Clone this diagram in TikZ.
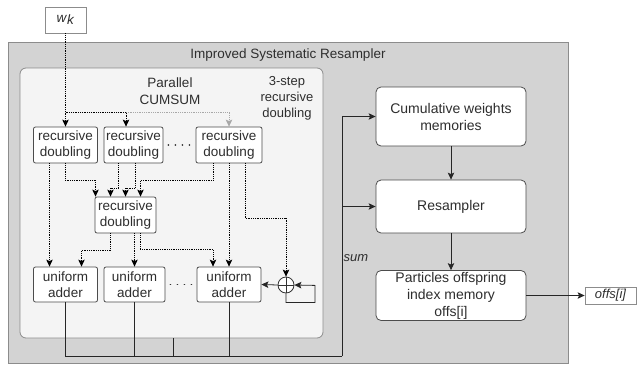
\documentclass[tikz,border=0pt]{standalone}
\usepackage{fontspec}
\setmainfont{Liberation Sans}
\usetikzlibrary{arrows.meta}
\definecolor{outer}{HTML}{D3D3D3}
\definecolor{panel}{HTML}{F4F4F4}
\definecolor{edge}{HTML}{8C8C8C}
\definecolor{ink}{HTML}{2E2E2E}
\definecolor{feed}{HTML}{A8A8A8}

\begin{document}
\begin{tikzpicture}[x=1pt, y=-1pt, font=\fontsize{13.5}{16.5}\selectfont,
    blk/.style={shape=rectangle, draw=black!70, fill=white, rounded corners=2pt, line width=0.8pt, inner sep=0pt, align=center, text=ink},
    big/.style={blk, rounded corners=5pt, minimum width=150pt, font=\fontsize{14}{17}\selectfont},
    tip/.style={-{Stealth[length=7pt,width=6.5pt,inset=1.5pt]}},
    sig/.style={tip, densely dotted, line width=0.8pt},
    wire/.style={line width=0.8pt, black!85},
    dots/.style={line width=1.8pt, dash pattern=on 0.01pt off 7pt, line cap=round, black!80}]
    \useasboundingbox (0,0) rectangle (638,365);

    \node at (288,202.5) (isr) [shape=rectangle, draw=edge, fill=outer, line width=1pt, minimum width=560pt, minimum height=321pt] {};
    \node at (288,55) (isrtitle) [text=ink] {Improved Systematic Resampler};
    \node at (171.5,203) (cumsum) [shape=rectangle, draw=edge, fill=panel, rounded corners=6pt, line width=0.8pt, minimum width=303pt, minimum height=270pt] {};
    \node at (170,91) (cumsumlabel) [align=center, text=ink] {Parallel\\CUMSUM};
    \node at (287,98) (steplabel) [align=center, text=ink, font=\fontsize{13}{16}\selectfont] {3-step\\recursive\\doubling};

    \node at (65.5,20) (wk) [shape=rectangle, draw=edge, fill=white, line width=0.8pt, minimum width=41pt, minimum height=26pt, text=ink] {\textit{w}\raisebox{-0.35ex}{\textit{k}}};

    \node at (65.5,145) (rd1) [blk, minimum width=64pt, minimum height=36pt] {recursive\\doubling};
    \node at (133.5,145) (rd2) [blk, minimum width=59pt, minimum height=36pt] {recursive\\doubling};
    \node at (229,145) (rd3) [blk, minimum width=66pt, minimum height=36pt] {recursive\\doubling};
    \node at (125.5,215) (rdm) [blk, minimum width=61pt, minimum height=36pt] {recursive\\doubling};

    \node at (65.5,284.5) (ua1) [blk, minimum width=64pt, minimum height=35pt] {uniform\\adder};
    \node at (134.5,284.5) (ua2) [blk, minimum width=61pt, minimum height=35pt] {uniform\\adder};
    \node at (229,284.5) (ua3) [blk, minimum width=64pt, minimum height=35pt] {uniform\\adder};
    \node at (286,285) (sum) [shape=circle, draw=black!80, fill=white, line width=0.8pt, minimum size=16pt, inner sep=0pt] {};
    \draw[line width=0.8pt, black!80] (sum.north) -- (sum.south) (sum.west) -- (sum.east);

    \draw[dots] ([xshift=5pt]rd2.east) -- (rd3.west);
    \draw[dots] ([xshift=5pt]ua2.east) -- (ua3.west);

    \node at (451,116.5) (cwm) [big, minimum height=59pt] {Cumulative weights\\memories};
    \node at (451,206.5) (res) [big, minimum height=53pt] {Resampler};
    \node at (451,295.5) (pom) [big, minimum height=50pt] {Particles offspring\\index memory\\offs[i]};
    \node at (610.5,295.5) (offs) [shape=rectangle, draw=edge, fill=white, line width=0.8pt, minimum width=51pt, minimum height=17pt, inner sep=0pt, text=ink, font=\fontsize{13}{16}\itshape] {offs[i]};

    \coordinate (split) at (65.5,112);
    \draw[sig, feed] ([xshift=-7.5pt]rd2.north |- split) -| (rd3.north);
    \draw[sig] (wk.south) -- (rd1.north);
    \draw[sig] (split) -| ([xshift=-7.5pt]rd2.north);

    \draw[sig] ([xshift=-16pt]rd1.south) -- ([xshift=-16pt]ua1.north);
    \draw[sig] (rd1.south) -- ++(0,17) -| ([xshift=-30pt]rdm.north);
    \draw[sig] ([xshift=-15pt]rd2.south) -- ++(0,25) -| ([xshift=-15pt]rdm.north);
    \draw[sig] ([xshift=1.5pt]rd2.south) -- ++(0,25) -| (rdm.north);
    \draw[sig] ([xshift=-16pt]rd3.south) -- ++(0,17) -| ([xshift=15pt]rdm.north);
    \draw[sig] (rd3.south) -- (ua3.north);
    \draw[sig] ([xshift=16pt]rd3.south) -- ++(0,55) -| (sum.north);

    \draw[sig] ([xshift=-15pt]rdm.south) -- ++(0,17) -| ([xshift=16pt]ua1.north);
    \draw[sig] ([xshift=9pt]rdm.south) -- (ua2.north);
    \draw[sig] ([xshift=14.5pt]rdm.south) -- ++(0,16) -| ([xshift=-16pt]ua3.north);

    \draw[wire, tip] (sum.west) -- (ua3.east);
    \draw[wire, tip] (sum.south) -- ++(0,9) -| ++(29,-17) -- (sum.east);

    \coordinate (bus) at (342,356);
    \draw[wire] (ua1.south) |- (bus);
    \draw[wire] (ua2.south) -- (ua2.south |- bus);
    \draw[wire] (ua3.south) -- (ua3.south |- bus);
    \draw[wire] ([xshift=1.5pt]cumsum.south) -- ([xshift=1.5pt]cumsum.south |- bus);
    \draw[wire, tip] (bus) |- (cwm.west);
    \draw[wire, tip] (bus |- res.west) -- (res.west);
    \node at (356,258) (sumlabel) [text=ink, font=\fontsize{13}{16}\itshape] {sum};

    \draw[wire, tip] (cwm.south) -- (res.north);
    \draw[wire, tip] (res.south) -- (pom.north);
    \draw[wire, tip] (pom.east) -- (offs.west);
\end{tikzpicture}
\end{document}
